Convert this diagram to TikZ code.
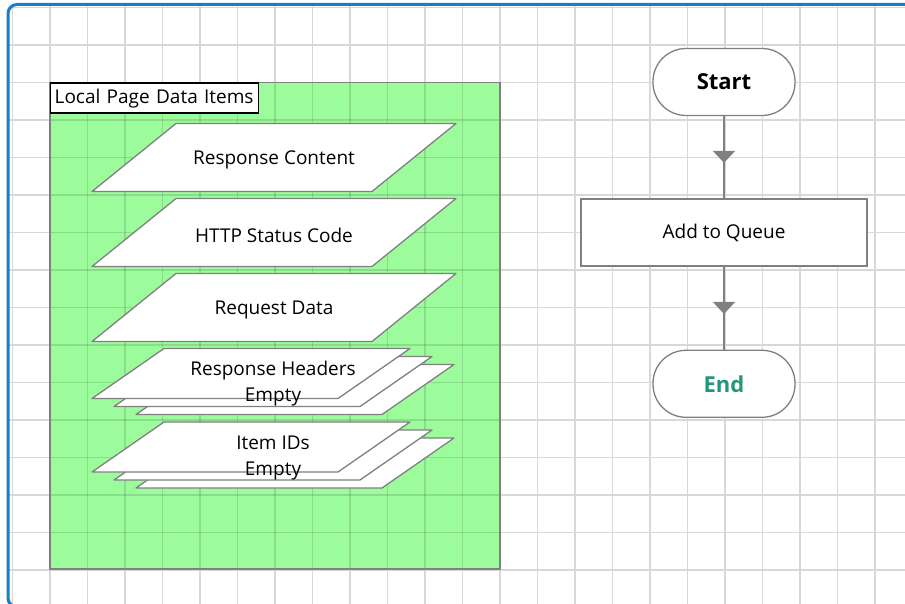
\documentclass[tikz,border=0pt]{standalone}
\usepackage{fontspec}
\setmainfont{Open Sans}
\usetikzlibrary{arrows.meta,decorations.markings,positioning}

\definecolor{frameblue}{RGB}{24,126,201}
\definecolor{gridgray}{RGB}{216,216,216}
\definecolor{pagegreen}{RGB}{156,252,156}
\definecolor{edgegray}{RGB}{128,128,128}
\definecolor{endteal}{RGB}{36,150,124}

\tikzset{
  item/.style={draw=edgegray,fill=white,line width=1.3pt,line join=round},
  itemtext/.style={font=\fontsize{19}{26}\selectfont,align=center,inner sep=0pt,yshift=-2.5pt},
  term/.style={draw=edgegray,fill=white,line width=1.3pt,rounded corners=33pt,
    minimum width=142pt,minimum height=67pt,font=\fontsize{22}{24}\selectfont\bfseries},
  proc/.style={draw=edgegray,fill=white,line width=1.5pt,minimum width=286pt,
    minimum height=67pt,font=\fontsize{19}{22}\selectfont},
  flow/.style={draw=edgegray,line width=1.5pt,postaction={decorate},
    decoration={markings,mark=at position 0.57 with {\arrow{Triangle[width=22pt,length=12pt]}}}},
}

% single data item: name, bottom left x, bottom left y, text
\newcommand{\drawitem}[4]{%
  \draw[item] (#2,#3) -- ++(280,0) -- ++(84,-68) -- ++(-280,0) -- cycle;
  \node[itemtext] (#1) at (#2+182,#3-34) {#4};
}
% stacked data item, three sheets
\newcommand{\drawstack}[4]{%
  \foreach \dx/\dy in {44/16,22/8,0/0}
    \draw[item] (#2+\dx,#3+\dy) -- ++(246,0) -- ++(72,-50) -- ++(-246,0) -- cycle;
  \node[itemtext] (#1) at (#2+181,#3-17) {#4};
}

\begin{document}
\begin{tikzpicture}[x=1pt,y=-1pt]
  \clip (0,0) rectangle (905,604);
  \fill[white] (0,0) rectangle (905,604);

  %grid
  \begin{scope}
    \clip (8,5) rectangle (905,604);
    \foreach \gx in {0,...,23}
      \draw[gridgray,line width=1.5pt] (12.5+37.5*\gx,0) -- (12.5+37.5*\gx,604);
    \foreach \gy in {0,...,16}
      \draw[gridgray,line width=1.5pt] (0,7.5+37.5*\gy) -- (905,7.5+37.5*\gy);
  \end{scope}

  %frame
  \draw[frameblue,line width=3pt,rounded corners=9pt] (8,4.5) rectangle (940,607);

  %local page data
  \fill[pagegreen] (50,82.5) rectangle (500,569);
  \begin{scope}
    \clip (50,82.5) rectangle (500,569);
    \foreach \gx in {1,...,13}
      \draw[black,opacity=0.12,line width=1.5pt] (12.5+37.5*\gx,0) -- (12.5+37.5*\gx,604);
    \foreach \gy in {2,...,15}
      \draw[black,opacity=0.12,line width=1.5pt] (0,7.5+37.5*\gy) -- (905,7.5+37.5*\gy);
  \end{scope}
  \draw[edgegray,line width=1.2pt] (50,82.5) rectangle (500,569);
  \node[draw=black,fill=white,line width=1.3pt,anchor=north west,inner xsep=4pt,
    text width=200pt,align=left,minimum height=30pt,font=\fontsize{19}{22}\selectfont]
    (panel) at (50,82.5) {Local Page Data Items};

  %data items
  \drawitem{content}{92}{191.5}{Response Content}
  \drawitem{status}{92}{266.5}{HTTP Status Code}
  \drawitem{request}{92}{341.5}{Request Data}
  \drawstack{headers}{92}{398.5}{Response Headers\\Empty}
  \drawstack{ids}{92}{472}{Item IDs\\Empty}

  %flow
  \node[term] (start) at (724,82) {Start};
  \node[proc,below=82pt of start] (queue) {Add to Queue};
  \node[term,text=endteal,below=83pt of queue] (end) {End};
  \draw[flow] (start) -- (queue);
  \draw[flow] (queue) -- (end);
\end{tikzpicture}
\end{document}
